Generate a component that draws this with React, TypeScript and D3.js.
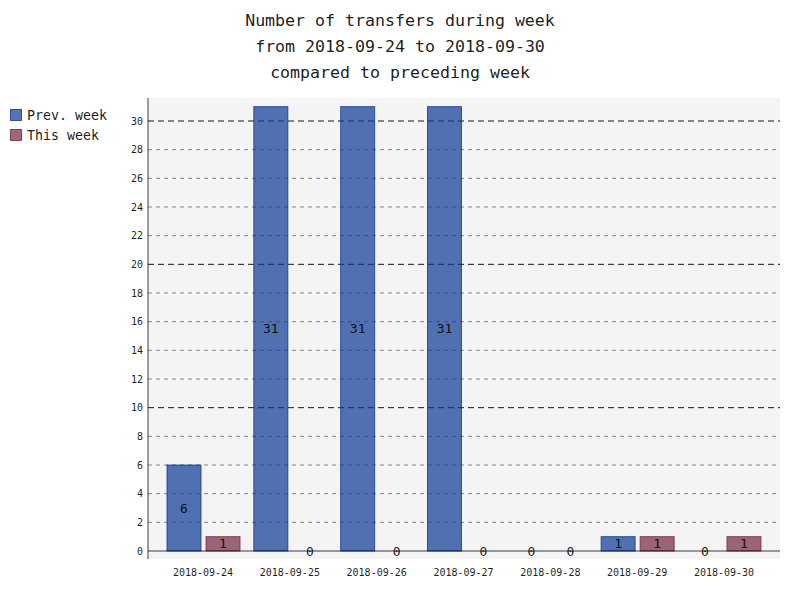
import { useEffect, useRef } from "react";
import * as d3 from "d3";

const days = [
  "2018-09-24",
  "2018-09-25",
  "2018-09-26",
  "2018-09-27",
  "2018-09-28",
  "2018-09-29",
  "2018-09-30",
];
const prevWeek = [6, 31, 31, 31, 0, 1, 0];
const thisWeek = [1, 0, 0, 0, 0, 1, 1];
const seriesNames = ["Prev. week", "This week"];
const yTicks = [0, 2, 4, 6, 8, 10, 12, 14, 16, 18, 20, 22, 24, 26, 28, 30];
const titleLines = [
  "Number of transfers during week",
  "from 2018-09-24 to 2018-09-30",
  "compared to preceding week",
];

const FONT = "'DejaVu Sans Mono', 'Liberation Mono', monospace";
const COLORS = ["rgb(12,55,149)", "rgb(117,38,65)"];

const App = () => {
  const svgRef = useRef<SVGSVGElement>(null);

  useEffect(() => {
    if (!svgRef.current) return;
    const svg = d3.select(svgRef.current);
    svg.selectAll("*").remove();

    const plot = { left: 148, right: 780, top: 98, bottom: 559 };
    const zeroY = 551;

    const y = d3
      .scaleLinear()
      .domain([0, 30])
      .range([zeroY, 121]);

    const x0 = d3.scaleBand().domain(days).range([159.6, 767.4]).padding(0);
    const x1 = d3
      .scaleBand()
      .domain(seriesNames)
      .range([7.4, 80.4])
      .paddingInner(5 / 39)
      .paddingOuter(0);

    // Title
    svg
      .append("g")
      .selectAll("text")
      .data(titleLines)
      .join("text")
      .attr("x", 400)
      .attr("y", (_, i) => 26 + i * 26)
      .attr("text-anchor", "middle")
      .style("font-family", FONT)
      .style("font-size", "16.6px")
      .style("fill", "rgba(0,0,0,0.9)")
      .text((d) => d);

    // Plot background
    svg
      .append("rect")
      .attr("x", plot.left)
      .attr("y", plot.top)
      .attr("width", plot.right - plot.left)
      .attr("height", plot.bottom - plot.top)
      .attr("fill", "rgba(240,240,240,0.7)");

    // Grid lines
    const grid = svg.append("g");
    grid
      .selectAll("line")
      .data(yTicks.filter((t) => t !== 0))
      .join("line")
      .attr("x1", plot.left)
      .attr("x2", plot.right)
      .attr("y1", (d) => y(d))
      .attr("y2", (d) => y(d))
      .attr("stroke", (d) => (d % 10 === 0 ? "rgba(0,0,0,0.9)" : "rgba(0,0,0,0.45)"))
      .attr("stroke-dasharray", (d) => (d % 10 === 0 ? "6,4" : "4,4"))
      .attr("stroke-width", 1);

    // Y tick labels
    svg
      .append("g")
      .selectAll("text")
      .data(yTicks)
      .join("text")
      .attr("x", 143)
      .attr("y", (d) => y(d))
      .attr("dy", "0.35em")
      .attr("text-anchor", "end")
      .style("font-family", FONT)
      .style("font-size", "10px")
      .style("fill", "rgba(0,0,0,0.9)")
      .text((d) => d);

    // X tick labels
    svg
      .append("g")
      .selectAll("text")
      .data(days)
      .join("text")
      .attr("x", (d) => (x0(d) ?? 0) + x0.bandwidth() / 2)
      .attr("y", 575.5)
      .attr("text-anchor", "middle")
      .style("font-family", FONT)
      .style("font-size", "10px")
      .style("fill", "rgba(0,0,0,0.9)")
      .text((d) => d);

    // Bars
    const series = [prevWeek, thisWeek];
    series.forEach((values, si) => {
      const name = seriesNames[si];
      const g = svg.append("g");
      const rows = days.map((day, i) => ({ day, value: values[i] }));
      g.selectAll("rect")
        .data(rows.filter((r) => r.value > 0))
        .join("rect")
        .attr("x", (d) => (x0(d.day) ?? 0) + (x1(name) ?? 0))
        .attr("y", (d) => y(d.value))
        .attr("width", x1.bandwidth())
        .attr("height", (d) => zeroY - y(d.value))
        .attr("fill", COLORS[si])
        .attr("fill-opacity", 0.7)
        .attr("stroke", COLORS[si])
        .attr("stroke-opacity", 0.8)
        .attr("stroke-width", 1);

      g.selectAll("text")
        .data(rows)
        .join("text")
        .attr("x", (d) => (x0(d.day) ?? 0) + (x1(name) ?? 0) + x1.bandwidth() / 2)
        .attr("y", (d) => (y(d.value) + zeroY) / 2)
        .attr("dy", "0.35em")
        .attr("text-anchor", "middle")
        .style("font-family", FONT)
        .style("font-size", "13px")
        .style("fill", "rgba(0,0,0,0.9)")
        .text((d) => d.value);
    });

    // Axes lines
    svg
      .append("line")
      .attr("x1", plot.left)
      .attr("x2", plot.right)
      .attr("y1", zeroY)
      .attr("y2", zeroY)
      .attr("stroke", "rgba(0,0,0,0.5)")
      .attr("stroke-width", 1.5);
    svg
      .append("line")
      .attr("x1", plot.left)
      .attr("x2", plot.left)
      .attr("y1", plot.top)
      .attr("y2", plot.bottom)
      .attr("stroke", "rgba(0,0,0,0.5)")
      .attr("stroke-width", 1.5);

    // Legend
    const legend = svg.append("g");
    seriesNames.forEach((name, i) => {
      legend
        .append("rect")
        .attr("x", 10.5)
        .attr("y", 109.5 + i * 20)
        .attr("width", 11)
        .attr("height", 11)
        .attr("fill", COLORS[i])
        .attr("fill-opacity", 0.7)
        .attr("stroke", COLORS[i])
        .attr("stroke-opacity", 0.8);
      legend
        .append("text")
        .attr("x", 27)
        .attr("y", 115 + i * 20)
        .attr("dy", "0.35em")
        .style("font-family", FONT)
        .style("font-size", "13.3px")
        .style("fill", "rgba(0,0,0,0.9)")
        .text(name);
    });
  }, []);

  return (
    <svg
      ref={svgRef}
      width={800}
      height={600}
      style={{ display: "block", margin: "-8px", background: "white" }}
    />
  );
};

export default App;
